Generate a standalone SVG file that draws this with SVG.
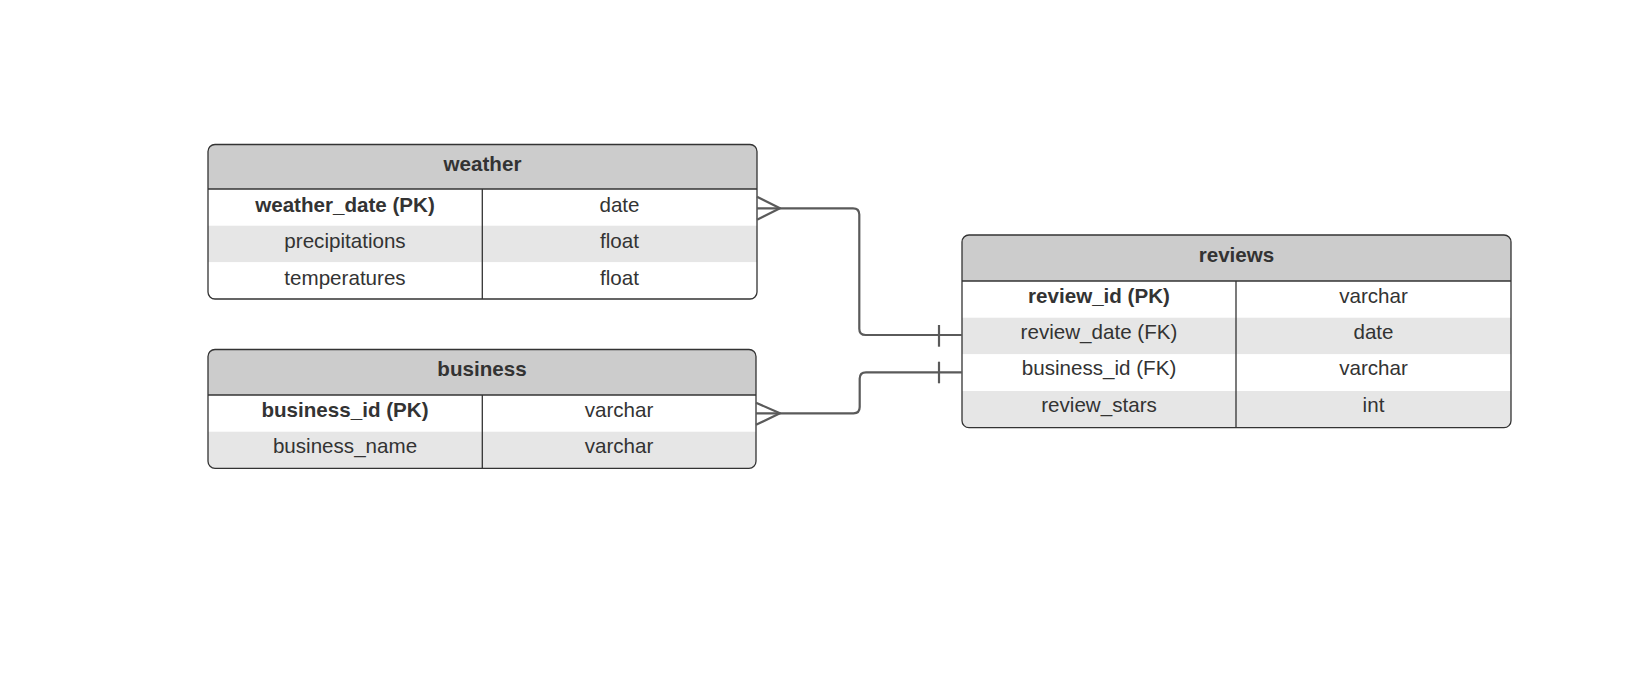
<svg xmlns="http://www.w3.org/2000/svg" width="1626" height="691" viewBox="0 0 1626 691">
<style>
.hdr{fill:#cccccc}
.alt{fill:#e6e6e6}
.wht{fill:#ffffff}
.brd{fill:none;stroke:#333333;stroke-width:1.3}
.sep{stroke:#333333;stroke-width:1.3;fill:none}
.t{font-family:"Liberation Sans",Arial,sans-serif;font-size:20.6px;fill:#333333;text-anchor:middle}
.b{font-weight:bold}
.con{fill:none;stroke:#5a5a5a;stroke-width:2.2;stroke-linejoin:round}
</style>
<defs>
<clipPath id="cw"><rect x="208" y="144.5" width="549" height="154.5" rx="7"/></clipPath>
<clipPath id="cb"><rect x="208" y="349.5" width="548" height="118.8" rx="7"/></clipPath>
<clipPath id="cr"><rect x="962" y="235" width="549" height="192.7" rx="7"/></clipPath>
</defs>
<rect width="1626" height="691" fill="#ffffff"/>

<g id="weather">
<g clip-path="url(#cw)">
<rect class="hdr" x="208" y="144.5" width="549" height="44.5"/>
<rect class="wht" x="208" y="189" width="549" height="36.7"/>
<rect class="alt" x="208" y="225.7" width="549" height="36.6"/>
<rect class="wht" x="208" y="262.3" width="549" height="36.7"/>
</g>
<line class="sep" x1="208" y1="189" x2="757" y2="189"/>
<line class="sep" x1="482.3" y1="189" x2="482.3" y2="299"/>
<rect class="brd" x="208" y="144.5" width="549" height="154.5" rx="7"/>
<text class="t b" x="482.5" y="171">weather</text>
<text class="t b" x="345" y="212">weather_date (PK)</text>
<text class="t" x="619.5" y="212">date</text>
<text class="t" x="345" y="248.3">precipitations</text>
<text class="t" x="619.5" y="248.3">float</text>
<text class="t" x="345" y="284.6">temperatures</text>
<text class="t" x="619.5" y="284.6">float</text>
</g>

<g id="business">
<g clip-path="url(#cb)">
<rect class="hdr" x="208" y="349.5" width="548" height="45.5"/>
<rect class="wht" x="208" y="395" width="548" height="36.7"/>
<rect class="alt" x="208" y="431.7" width="548" height="36.6"/>
</g>
<line class="sep" x1="208" y1="395" x2="756" y2="395"/>
<line class="sep" x1="482.3" y1="395" x2="482.3" y2="468.3"/>
<rect class="brd" x="208" y="349.5" width="548" height="118.8" rx="7"/>
<text class="t b" x="482" y="376">business</text>
<text class="t b" x="345" y="417">business_id (PK)</text>
<text class="t" x="619" y="417">varchar</text>
<text class="t" x="345" y="453.3">business_name</text>
<text class="t" x="619" y="453.3">varchar</text>
</g>

<g id="reviews">
<g clip-path="url(#cr)">
<rect class="hdr" x="962" y="235" width="549" height="46"/>
<rect class="wht" x="962" y="281" width="549" height="36.7"/>
<rect class="alt" x="962" y="317.7" width="549" height="36.6"/>
<rect class="wht" x="962" y="354.3" width="549" height="36.7"/>
<rect class="alt" x="962" y="391" width="549" height="36.7"/>
</g>
<line class="sep" x1="962" y1="281" x2="1511" y2="281"/>
<line class="sep" x1="1236" y1="281" x2="1236" y2="427.7"/>
<rect class="brd" x="962" y="235" width="549" height="192.7" rx="7"/>
<text class="t b" x="1236.5" y="261.7">reviews</text>
<text class="t b" x="1099" y="303.3">review_id (PK)</text>
<text class="t" x="1373.5" y="303.3">varchar</text>
<text class="t" x="1099" y="339">review_date (FK)</text>
<text class="t" x="1373.5" y="339">date</text>
<text class="t" x="1099" y="375.2">business_id (FK)</text>
<text class="t" x="1373.5" y="375.2">varchar</text>
<text class="t" x="1099" y="411.5">review_stars</text>
<text class="t" x="1373.5" y="411.5">int</text>
</g>

<g id="connectors">
<path class="con" d="M757,208.3 H853 Q859.3,208.3 859.3,214.6 V328.7 Q859.3,335 865.6,335 H962"/>
<path class="con" d="M757,196.7 L780,208.3 L757,219.8"/>
<path class="con" d="M939,325 V346.7"/>
<path class="con" d="M756,413.3 H853.5 Q859.7,413.3 859.7,407 V378.6 Q859.7,372.3 866,372.3 H962"/>
<path class="con" d="M756,402.7 L780,413.3 L756,424.8"/>
<path class="con" d="M939,361.7 V383.3"/>
</g>
</svg>
